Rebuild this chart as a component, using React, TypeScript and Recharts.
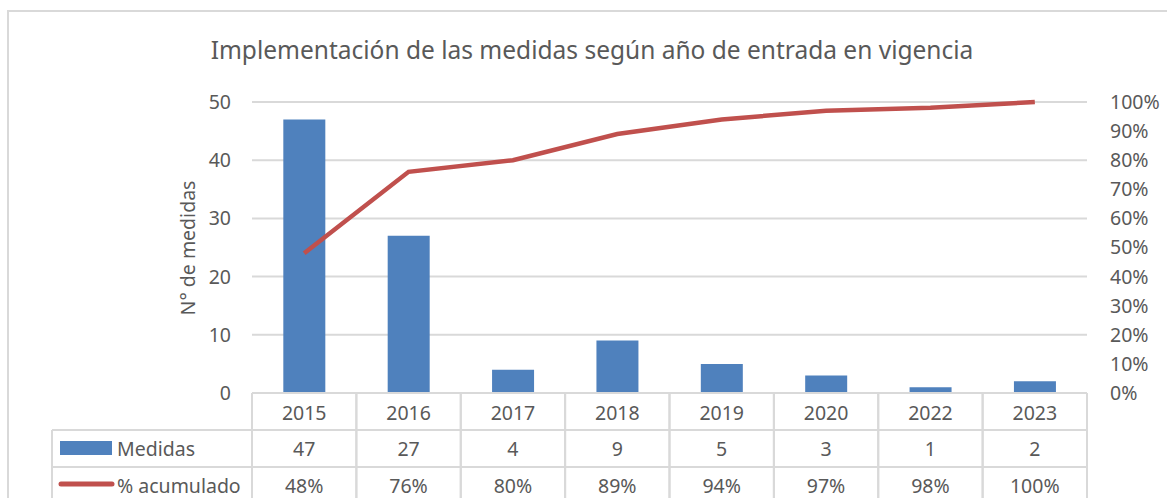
import React from "react";
import {
  ComposedChart,
  Bar,
  Line,
  XAxis,
  YAxis,
  CartesianGrid,
  Customized,
} from "recharts";

const categories = ["2015", "2016", "2017", "2018", "2019", "2020", "2022", "2023"];
const medidas = [47, 27, 4, 9, 5, 3, 1, 2];
const acumulado = [48, 76, 80, 89, 94, 97, 98, 100];
const leftTicks = [0, 10, 20, 30, 40, 50];
const rightTicks = [0, 10, 20, 30, 40, 50, 60, 70, 80, 90, 100];

const title = "Implementación de las medidas según año de entrada en vigencia";
const yLabel = "N° de medidas";
const seriesNames = ["Medidas", "% acumulado"];

const data = categories.map((c, i) => ({ year: c, medidas: medidas[i], acumulado: acumulado[i] }));

const W = 1167;
const H = 498;
const PLOT_L = 252;
const PLOT_R = 1087;
const PLOT_T = 102;
const PLOT_B = 393;
const CELL_W = (PLOT_R - PLOT_L) / categories.length;
const ROW_H = 37;
const FONT = "'Noto Sans', 'Open Sans', sans-serif";
const FS = 19.5;
const TXT = "#595959";
const GRID = "#d9d9d9";
const BLUE = "#4f81bd";
const RED = "#c0504d";

const TableTick = (props: any) => {
  const { x, payload, index } = props;
  const top = PLOT_B;
  const left = x - CELL_W / 2;
  const right = x + CELL_W / 2;
  const bottom = H + 10;
  return (
    <g>
      <line x1={left} y1={top} x2={left} y2={bottom} stroke={GRID} strokeWidth={2} />
      <line x1={right} y1={top} x2={right} y2={bottom} stroke={GRID} strokeWidth={2} />
      <line x1={left} y1={top + ROW_H} x2={right} y2={top + ROW_H} stroke={GRID} strokeWidth={2} />
      <line x1={left} y1={top + 2 * ROW_H} x2={right} y2={top + 2 * ROW_H} stroke={GRID} strokeWidth={2} />
      <text x={x} y={top + 27} textAnchor="middle" fontFamily={FONT} fontSize={FS} fill={TXT}>
        {payload.value}
      </text>
      <text x={x} y={top + ROW_H + 26} textAnchor="middle" fontFamily={FONT} fontSize={FS} fill={TXT}>
        {medidas[index]}
      </text>
      <text x={x} y={top + 2 * ROW_H + 26} textAnchor="middle" fontFamily={FONT} fontSize={FS} fill={TXT}>
        {acumulado[index] + "%"}
      </text>
      {index === 0 && (
        <g>
          <line x1={52} y1={top + ROW_H} x2={left} y2={top + ROW_H} stroke={GRID} strokeWidth={2} />
          <line x1={52} y1={top + 2 * ROW_H} x2={left} y2={top + 2 * ROW_H} stroke={GRID} strokeWidth={2} />
          <line x1={52} y1={top + ROW_H} x2={52} y2={bottom} stroke={GRID} strokeWidth={2} />
          <rect x={60} y={top + ROW_H + 11} width={52} height={14} fill={BLUE} />
          <text x={117} y={top + ROW_H + 26} fontFamily={FONT} fontSize={FS} fill={TXT}>
            {seriesNames[0]}
          </text>
          <line
            x1={61}
            y1={top + 2 * ROW_H + 17}
            x2={112}
            y2={top + 2 * ROW_H + 17}
            stroke={RED}
            strokeWidth={5}
            strokeLinecap="round"
          />
          <text x={117} y={top + 2 * ROW_H + 26} fontFamily={FONT} fontSize={FS} fill={TXT}>
            {seriesNames[1]}
          </text>
        </g>
      )}
    </g>
  );
};

const Decor = () => (
  <g>
    <rect x={8} y={11} width={W + 20} height={H + 20} fill="none" stroke={GRID} strokeWidth={2} />
    <text x={592} y={59} textAnchor="middle" fontFamily={FONT} fontSize={24.5} fill={TXT}>
      {title}
    </text>
    <text
      x={0}
      y={0}
      transform={`translate(195, 248) rotate(-90)`}
      textAnchor="middle"
      fontFamily={FONT}
      fontSize={FS}
      fill={TXT}
    >
      {yLabel}
    </text>
  </g>
);

export default function App() {
  return (
    <div style={{ position: "absolute", left: 0, top: 0, width: W, height: H, background: "#fff" }}>
      <ComposedChart
        width={W}
        height={H}
        data={data}
        margin={{ top: PLOT_T, right: 0, bottom: 0, left: 152 }}
        barCategoryGap="30%"
      >
        <Customized component={Decor} />
        <CartesianGrid yAxisId="left" vertical={false} stroke={GRID} strokeWidth={2} />
        <XAxis
          dataKey="year"
          height={H - PLOT_B}
          axisLine={{ stroke: GRID, strokeWidth: 2 }}
          tickLine={false}
          tickSize={0}
          tickMargin={0}
          tick={<TableTick />}
          interval={0}
        />
        <YAxis
          yAxisId="left"
          width={PLOT_L - 152}
          domain={[0, 50]}
          ticks={leftTicks}
          axisLine={false}
          tickLine={false}
          tickSize={0}
          tickMargin={21}
          tick={{ fontFamily: FONT, fontSize: FS, fill: TXT }}
        />
        <YAxis
          yAxisId="right"
          orientation="right"
          width={W - PLOT_R}
          domain={[0, 100]}
          ticks={rightTicks}
          tickFormatter={(v: number) => `${v}%`}
          axisLine={false}
          tickLine={false}
          tickSize={0}
          tickMargin={23}
          interval={0}
          tick={{ fontFamily: FONT, fontSize: FS, fill: TXT, textAnchor: "start" }}
        />
        <Bar yAxisId="left" dataKey="medidas" fill={BLUE} isAnimationActive={false} />
        <Line
          yAxisId="right"
          dataKey="acumulado"
          stroke={RED}
          strokeWidth={4.5}
          dot={false}
          type="linear"
          isAnimationActive={false}
        />
      </ComposedChart>
    </div>
  );
}
